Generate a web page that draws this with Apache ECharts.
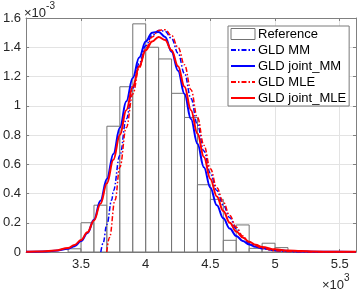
<!DOCTYPE html>
<html><head><meta charset="utf-8">
<script src="https://cdn.jsdelivr.net/npm/echarts@6/dist/echarts.min.js"></script>
<style>html,body{margin:0;padding:0;background:#fff}#c{width:357px;height:291px}</style>
</head><body><div id="c"></div>
<script>
// Histogram (values in units of 1e3 on x, 1e-3 on y)
const binLeft  = [3.4, 3.5, 3.6, 3.7, 3.8, 3.9, 4.0, 4.1, 4.2, 4.3, 4.4, 4.5, 4.6, 4.7, 4.8, 4.9, 5.0, 5.1];
const binRight = [3.5, 3.6, 3.7, 3.8, 3.9, 4.0, 4.1, 4.2, 4.3, 4.4, 4.5, 4.6, 4.7, 4.8, 4.9, 5.0, 5.1, 5.2];
const binHeight= [0.022,0.20,0.32,0.86,1.13,1.56,1.40,1.32,1.085,0.92,0.46,0.36,0.08,0.185,0.025,0.06,0.03,0.01];

// GLD MM (blue dash-dot)
const mmX = [3.653,3.67,3.70,3.737,3.75,3.80,3.85,3.90,3.95,4.00,4.05,4.10,4.15,4.20,4.25,4.30,4.35,4.40,4.45,4.50,4.55,4.60,4.65,4.70,4.75,4.80,4.85,4.90,5.00,5.10,5.20,5.30,5.626];
const mmY = [0,0.06,0.19,0.355,0.42,0.66,0.91,1.12,1.29,1.41,1.48,1.515,1.51,1.46,1.36,1.22,1.05,0.87,0.69,0.54,0.42,0.32,0.235,0.16,0.10,0.062,0.039,0.024,0.009,0.003,0.001,0,0];
// GLD joint_MM (blue solid)
const jmmX = [3.075,3.10,3.20,3.30,3.40,3.45,3.50,3.55,3.60,3.65,3.70,3.75,3.80,3.85,3.90,3.95,4.00,4.05,4.10,4.15,4.20,4.25,4.30,4.35,4.40,4.45,4.50,4.55,4.60,4.65,4.70,4.75,4.80,4.85,4.90,5.00,5.10,5.20,5.30,5.45,5.626];
const jmmY = [0.001,0.001,0.003,0.008,0.022,0.04,0.075,0.13,0.22,0.35,0.50,0.67,0.85,1.03,1.19,1.33,1.44,1.50,1.505,1.47,1.37,1.24,1.08,0.91,0.74,0.58,0.44,0.32,0.23,0.16,0.11,0.075,0.052,0.036,0.025,0.013,0.007,0.004,0.002,0.001,0.0005];
// GLD MLE (red dash-dot)
const mleX = [3.699,3.72,3.763,3.80,3.85,3.90,3.95,4.00,4.05,4.10,4.15,4.20,4.25,4.30,4.35,4.40,4.45,4.50,4.55,4.60,4.65,4.70,4.75,4.80,4.85,4.90,5.00,5.10,5.20,5.30,5.626];
const mleY = [0,0.10,0.355,0.58,0.85,1.08,1.26,1.39,1.47,1.515,1.52,1.48,1.40,1.28,1.11,0.92,0.73,0.57,0.44,0.34,0.25,0.17,0.11,0.068,0.042,0.025,0.009,0.003,0.001,0,0];
// GLD joint_MLE (red solid)
const jmleX = [3.075,3.10,3.20,3.30,3.40,3.45,3.50,3.55,3.60,3.65,3.70,3.75,3.80,3.85,3.90,3.95,4.00,4.05,4.10,4.15,4.20,4.25,4.30,4.35,4.40,4.45,4.50,4.55,4.60,4.65,4.70,4.75,4.80,4.85,4.90,5.00,5.10,5.20,5.30,5.45,5.626];
const jmleY = [0.002,0.002,0.004,0.01,0.028,0.048,0.082,0.135,0.215,0.33,0.47,0.63,0.80,0.97,1.13,1.27,1.38,1.44,1.47,1.45,1.38,1.27,1.13,0.97,0.81,0.65,0.50,0.38,0.28,0.20,0.14,0.10,0.07,0.05,0.035,0.018,0.01,0.006,0.003,0.0015,0.001];

const xTicks = [3.5, 4, 4.5, 5, 5.5];

const zip = (a, b) => a.map((v, i) => [v, b[i]]);
const FONT = 'Liberation Sans';
const axisCol = '#808080';
const gridCol = '#e3e3e3';
const XMIN = 3.075, XMAX = 5.626;
const hideSym = {opacity: 0, color: 'rgba(0,0,0,0)', borderWidth: 0};

const chart = echarts.init(document.getElementById('c'), null, {renderer: 'canvas'});
chart.setOption({
  animation: false,
  backgroundColor: '#fff',
  textStyle: {fontFamily: FONT},
  grid: {left: 23, right: 1, top: 18, bottom: 39, containLabel: false},
  xAxis: [{
    type: 'value', min: XMIN, max: XMAX, position: 'bottom',
    axisLine: {show: true, lineStyle: {color: axisCol}},
    axisTick: {show: true, inside: true, length: 3, customValues: xTicks, lineStyle: {color: axisCol}},
    axisLabel: {customValues: xTicks, color: '#262626', fontSize: 13, fontFamily: FONT, margin: 6},
    splitLine: {show: true, lineStyle: {color: gridCol}}
  }, {
    type: 'value', min: XMIN, max: XMAX, position: 'top',
    axisLine: {show: true, onZero: false, lineStyle: {color: axisCol}},
    axisTick: {show: true, inside: true, length: 3, customValues: xTicks, lineStyle: {color: axisCol}},
    axisLabel: {show: false}, splitLine: {show: false}
  }],
  yAxis: [{
    type: 'value', min: 0, max: 1.6, interval: 0.2, position: 'left',
    axisLine: {show: true, lineStyle: {color: axisCol}},
    axisTick: {show: true, inside: true, length: 3, lineStyle: {color: axisCol}},
    axisLabel: {color: '#262626', fontSize: 13, fontFamily: FONT, margin: 5},
    splitLine: {show: true, lineStyle: {color: gridCol}}
  }, {
    type: 'value', min: 0, max: 1.6, interval: 0.2, position: 'right',
    axisLine: {show: true, onZero: false, lineStyle: {color: axisCol}},
    axisTick: {show: true, inside: true, length: 3, lineStyle: {color: axisCol}},
    axisLabel: {show: false}, splitLine: {show: false}
  }],
  legend: {
    orient: 'vertical', left: 228, top: 26, padding: [0, 3, 0, 2], itemGap: 0,
    itemWidth: 24, itemHeight: 11,
    backgroundColor: '#fff', borderColor: '#7a7a7a', borderWidth: 1, borderRadius: 0,
    textStyle: {fontSize: 13, color: '#000', fontFamily: FONT, lineHeight: 16, padding: [0,0,0,-2]},
    data: [
      {name: 'Reference', icon: 'rect', itemStyle: {color: '#fff', borderColor: '#737373', borderWidth: 1}},
      {name: 'GLD MM', itemStyle: hideSym}, {name: 'GLD joint_MM', itemStyle: hideSym},
      {name: 'GLD MLE', itemStyle: hideSym}, {name: 'GLD joint_MLE', itemStyle: hideSym}
    ]
  },
  graphic: [
    {type: 'text', left: 24, top: 1, style: {
      text: '{a|×10}{b|-3}', rich: {
        a: {fontSize: 13, fontFamily: FONT, fill: '#262626', padding: [6, 0, 0, 0]},
        b: {fontSize: 10, fontFamily: FONT, fill: '#262626', verticalAlign: 'top', padding: [0, 0, 6, 0]}
      }}},
    {type: 'text', left: 322, top: 273, style: {
      text: '{a|×10}{b|3}', rich: {
        a: {fontSize: 13, fontFamily: FONT, fill: '#262626', padding: [6, 0, 0, 0]},
        b: {fontSize: 10, fontFamily: FONT, fill: '#262626', verticalAlign: 'top', padding: [0, 0, 6, 0]}
      }}}
  ],
  series: [
    {
      name: 'Reference', type: 'custom', xAxisIndex: 0, yAxisIndex: 0,
      itemStyle: {color: '#fff', borderColor: '#737373'},
      encode: {x: [0, 1], y: 2},
      data: binLeft.map((l, i) => [l, binRight[i], binHeight[i]]),
      renderItem: function (params, api) {
        const p0 = api.coord([api.value(0), api.value(2)]);
        const p1 = api.coord([api.value(1), 0]);
        return {type: 'rect', shape: {x: p0[0], y: p0[1], width: p1[0] - p0[0], height: p1[1] - p0[1]},
          style: {fill: 'rgba(255,255,255,0.6)', stroke: '#737373', lineWidth: 1}};
      }
    },
    {name: 'GLD MM', type: 'line', data: zip(mmX, mmY), showSymbol: false, symbol: 'none',
      smooth: 0.4, smoothMonotone: 'x', color: '#0000ff',
      lineStyle: {color: '#0000ff', width: 1.5, type: [5, 2, 1.5, 2]}},
    {name: 'GLD joint_MM', type: 'line', data: zip(jmmX, jmmY), showSymbol: false, symbol: 'none',
      smooth: 0.4, smoothMonotone: 'x', color: '#0000ff',
      lineStyle: {color: '#0000ff', width: 2}},
    {name: 'GLD MLE', type: 'line', data: zip(mleX, mleY), showSymbol: false, symbol: 'none',
      smooth: 0.4, smoothMonotone: 'x', color: '#ff0000',
      lineStyle: {color: '#ff0000', width: 1.5, type: [5, 2, 1.5, 2]}},
    {name: 'GLD joint_MLE', type: 'line', data: zip(jmleX, jmleY), showSymbol: false, symbol: 'none',
      smooth: 0.4, smoothMonotone: 'x', color: '#ff0000',
      lineStyle: {color: '#ff0000', width: 2}}
  ]
});
</script></body></html>
